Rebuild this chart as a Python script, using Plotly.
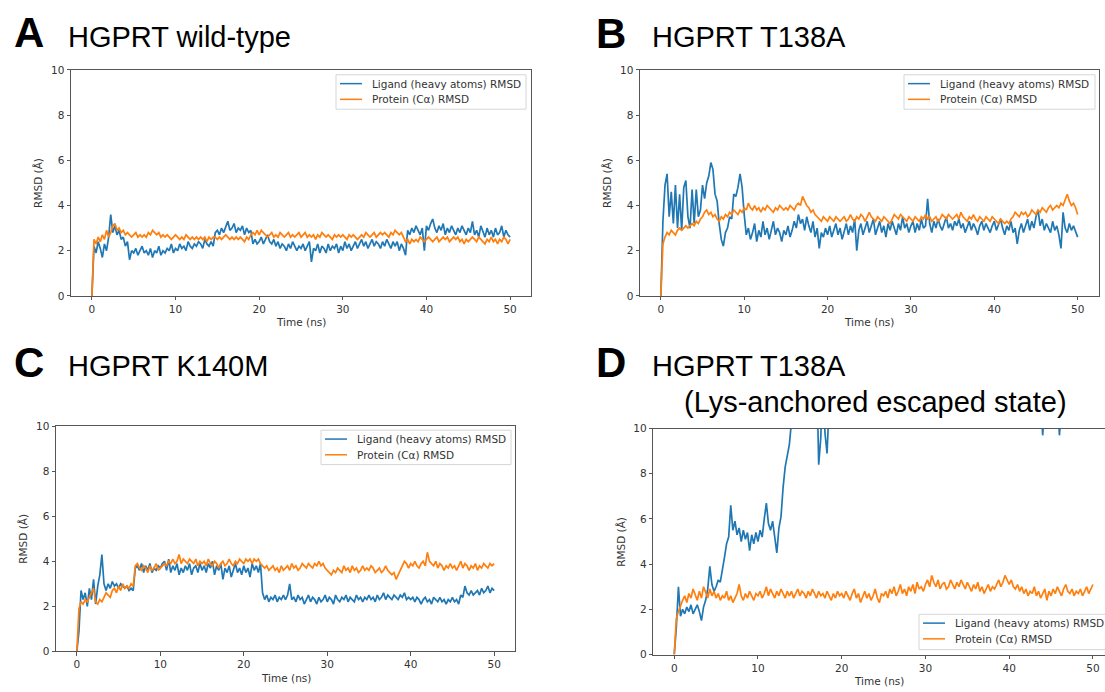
import plotly.graph_objects as go

W, H = 1105, 692
TIME_STEP_NS = 0.25

# ---------------- data (RMSD in Å, sampled every 0.25 ns from 0 to 50 ns) ----------------
a_ligand = [
    0.0, 2.2, 1.9, 2.4, 2.1, 1.7, 2.3, 2.0, 2.6, 3.6, 2.8, 3.1, 2.7, 2.9, 2.5, 2.6, 2.2, 2.4, 1.6, 2.0,
    1.9, 2.1, 1.8, 2.0, 2.2, 1.9, 2.0, 1.8, 2.1, 1.7, 2.0, 1.9, 2.2, 1.8, 2.0, 1.9, 2.1, 2.0, 2.3, 1.9,
    2.1, 2.0, 2.3, 2.1, 2.2, 2.0, 2.4, 2.2, 2.1, 2.3, 2.2, 2.4, 2.3, 2.1, 2.5, 2.3, 2.2, 2.4, 2.2, 2.8,
    2.9, 2.7, 3.0, 2.8, 3.1, 3.3, 2.9, 3.0, 3.2, 2.8, 3.0, 2.9, 3.1, 2.7, 3.0, 2.8, 2.9, 2.3, 2.5, 2.3,
    2.4, 2.6, 2.3, 2.5, 2.7, 2.4, 2.3, 2.5, 2.2, 2.4, 2.1, 2.3, 2.2, 2.0, 2.3, 2.1, 2.4, 2.2, 2.0, 2.2,
    2.1, 2.3, 2.0, 2.2, 2.4, 1.5, 2.1, 2.0, 2.3, 1.9, 2.2, 2.1, 1.9, 2.3, 2.0, 2.2, 2.1, 2.3, 1.9, 2.2,
    2.0, 2.4, 2.1, 2.3, 2.0, 2.2, 2.4, 2.1, 2.3, 2.5, 2.2, 2.4, 2.1, 2.3, 2.5, 2.2, 2.4, 2.3, 2.1, 2.4,
    2.2, 2.5, 2.3, 2.1, 2.4, 2.2, 2.4, 2.0, 2.3, 2.1, 1.8, 2.9, 2.7, 3.0, 2.8, 3.1, 2.9, 2.7, 3.0, 2.0,
    3.1, 2.9, 3.2, 3.4, 3.0, 2.8, 3.1, 2.9, 3.2, 2.7, 3.0, 2.8, 3.1, 2.9, 2.7, 3.0, 2.8, 3.1, 2.9, 2.7,
    3.0, 2.8, 3.3, 2.7, 2.9, 2.6, 3.1, 2.8, 2.6, 3.0, 2.7, 2.9, 2.6, 3.0, 2.7, 2.8, 3.1, 2.6, 2.9, 2.7,
    2.6,
]
a_protein = [
    0.0, 2.5, 2.3, 2.6, 2.4, 2.7, 2.5, 2.9, 2.6, 2.8, 3.1, 3.2, 2.9, 3.0, 2.8, 2.9, 2.7, 2.8, 2.7, 2.6,
    2.7, 2.8, 2.6, 2.7, 2.6, 2.7, 2.6, 2.8, 2.7, 2.9, 2.8, 2.7, 2.8, 2.6, 2.7, 2.6, 2.7, 2.6, 2.5, 2.6,
    2.7, 2.6, 2.5, 2.6, 2.5, 2.7, 2.6, 2.5, 2.6, 2.5, 2.6, 2.5, 2.6, 2.5, 2.6, 2.4, 2.6, 2.5, 2.6, 2.6,
    2.5, 2.6, 2.5, 2.6, 2.7, 2.6, 2.5, 2.6, 2.5, 2.6, 2.5, 2.6, 2.5, 2.4, 2.6, 2.5, 2.7, 2.8, 2.7, 2.9,
    2.7, 2.9, 2.8, 2.7, 2.6, 2.7, 2.8, 2.6, 2.7, 2.6, 2.8, 2.7, 2.6, 2.7, 2.8, 2.6, 2.7, 2.6, 2.7, 2.8,
    2.6, 2.7, 2.8, 2.6, 2.7, 2.6, 2.7, 2.5, 2.7, 2.6, 2.8, 2.7, 2.6, 2.7, 2.6, 2.5, 2.7, 2.6, 2.7, 2.6,
    2.7, 2.6, 2.5, 2.7, 2.6, 2.7, 2.6, 2.5, 2.6, 2.7, 2.6, 2.8, 2.7, 2.6, 2.7, 2.8, 2.6, 2.7, 2.8, 2.7,
    2.8, 2.7, 2.6, 2.8, 2.7, 2.9, 2.8, 2.7, 2.8, 2.6, 2.4, 2.5, 2.3, 2.5, 2.4, 2.5, 2.4, 2.6, 2.5, 2.4,
    2.5, 2.6, 2.5, 2.4, 2.5, 2.6, 2.4, 2.5, 2.6, 2.5, 2.6, 2.4, 2.5, 2.6, 2.5, 2.6, 2.4, 2.5, 2.3, 2.5,
    2.4, 2.5, 2.6, 2.5, 2.4, 2.6, 2.5, 2.4, 2.3, 2.5, 2.4, 2.6, 2.4, 2.5, 2.3, 2.5, 2.4, 2.6, 2.5, 2.3,
    2.5,
]

b_ligand = [
    0.0, 3.3, 4.9, 5.4, 3.5, 4.6, 3.2, 4.9, 3.0, 4.5, 2.9, 4.8, 5.1, 3.5, 3.0, 4.7, 3.2, 4.7, 3.5, 3.8,
    4.9, 4.3, 5.0, 5.3, 5.9, 5.6, 4.5, 4.2, 3.2, 2.5, 2.2, 2.8, 3.0, 3.5, 3.4, 4.5, 4.4, 4.8, 5.4, 4.8,
    3.6, 2.7, 3.0, 2.5, 2.8, 3.2, 2.4, 2.9, 2.6, 3.3, 2.7, 3.0, 2.5, 2.9, 3.3, 2.7, 3.0, 2.8, 2.4, 2.9,
    2.7, 3.1, 2.6, 2.9, 3.3, 3.0, 3.6, 3.2, 3.4, 2.9, 3.5, 3.1, 2.8, 3.3, 2.6, 3.0, 2.1, 2.8, 2.6, 3.0,
    2.7, 3.1, 2.6, 2.9, 3.2, 2.7, 3.0, 2.5, 2.9, 3.2, 2.7, 3.1, 2.8, 3.4, 2.0, 2.9, 3.2, 2.7, 3.0, 3.3,
    2.8, 3.1, 3.4, 2.7, 3.0, 3.3, 2.8, 3.1, 2.6, 3.2, 2.9, 3.3, 3.0, 2.7, 3.2, 2.9, 3.5, 3.0, 3.2, 2.8,
    3.1, 3.3, 2.8, 3.2, 2.9, 3.4, 3.0, 3.1, 4.3, 3.2, 2.8, 3.3, 3.0, 3.4, 3.1, 2.9, 3.2, 3.5, 3.0, 3.2,
    2.9, 3.3, 3.1, 3.4, 3.0, 3.2, 2.8, 3.1, 3.3, 2.9, 3.2, 3.0, 2.7, 3.1, 3.3, 2.9, 3.2, 3.0, 2.8, 3.1,
    3.3, 2.9, 3.2, 3.4, 3.0, 2.7, 3.1, 2.9, 3.3, 2.8, 3.0, 2.3, 2.9, 3.2, 2.8, 3.1, 3.4, 2.9, 3.3, 3.0,
    3.5, 3.8, 3.1, 3.4, 2.9, 3.2, 3.0, 2.8, 3.3, 2.9, 3.1, 2.7, 2.1, 3.7, 3.0, 2.8, 3.2, 2.9, 3.1, 2.8,
    2.6,
]
b_protein = [
    0.0, 2.3, 2.6, 2.8, 2.7, 2.9, 2.8, 2.7, 2.9, 3.0, 2.9, 3.0, 3.1, 3.0, 3.1, 3.2, 3.1, 3.3, 3.2, 3.4,
    3.5, 3.7, 3.8, 3.6, 3.7, 3.5, 3.6, 3.4, 3.3, 3.5, 3.4, 3.6, 3.5, 3.7, 3.6, 3.8, 3.7, 3.6, 3.8, 3.7,
    3.9, 3.8, 4.1, 3.9, 3.8, 4.0, 3.8, 3.9, 3.7, 3.9, 3.8, 4.0, 3.9, 3.8, 3.7, 3.9, 3.8, 4.0, 3.9, 3.8,
    3.9, 3.8, 4.0, 3.9, 3.8, 4.0, 4.1, 4.0, 4.4, 4.2, 4.0, 3.9, 3.7, 3.8, 3.6, 3.5, 3.4, 3.3, 3.5, 3.4,
    3.3, 3.5, 3.4, 3.3, 3.5, 3.4, 3.3, 3.4, 3.5, 3.3, 3.4, 3.6, 3.4, 3.3, 3.5, 3.4, 3.6, 3.5, 3.3, 3.5,
    3.7, 3.5, 3.4, 3.3, 3.5, 3.4, 3.3, 3.5, 3.4, 3.3, 3.2, 3.4, 3.6, 3.5, 3.4, 3.6, 3.5, 3.4, 3.3, 3.5,
    3.4, 3.3, 3.5, 3.4, 3.3, 3.5, 3.4, 3.6, 3.4, 3.5, 3.3, 3.4, 3.5, 3.3, 3.4, 3.6, 3.5, 3.4, 3.6, 3.5,
    3.4, 3.5, 3.6, 3.4, 3.7, 3.5, 3.4, 3.3, 3.5, 3.4, 3.6, 3.4, 3.3, 3.5, 3.4, 3.3, 3.5, 3.4, 3.3, 3.5,
    3.4, 3.3, 3.2, 3.4, 3.3, 3.2, 3.3, 3.2, 3.4, 3.5, 3.7, 3.6, 3.5, 3.7, 3.6, 3.7, 3.5, 3.6, 3.8, 3.7,
    3.6, 3.8, 3.7, 3.9, 3.8, 3.7, 3.9, 4.0, 3.8, 3.9, 4.0, 3.9, 4.1, 4.0, 4.3, 4.5, 4.2, 4.0, 4.1, 3.9,
    3.6,
]

c_ligand = [
    0.0, 0.9, 2.7, 2.3, 2.6, 2.0, 2.8, 2.3, 3.2, 2.1, 2.9, 3.4, 4.3, 3.0, 2.7, 3.0, 2.8, 3.1, 2.9, 3.0,
    2.8, 3.0, 2.9, 2.8, 2.9, 2.7, 2.8, 2.7, 3.7, 3.8, 3.6, 3.9, 3.5, 3.8, 3.6, 3.9, 3.5, 3.7, 3.6, 3.8,
    3.7, 3.9, 4.0, 3.6, 4.1, 3.5, 3.8, 3.6, 3.9, 3.4, 3.7, 3.5, 3.8, 3.6, 3.9, 3.4, 3.7, 3.8, 3.5, 3.9,
    3.6, 3.8, 3.5, 3.9, 3.7, 4.0, 3.4, 3.8, 3.6, 3.9, 3.2, 3.7, 3.5, 3.8, 3.3, 3.6, 3.9, 3.5, 3.7, 3.4,
    3.8, 3.5, 3.7, 3.3, 3.9, 3.6, 3.8, 3.5, 3.9, 2.6, 2.3, 2.5, 2.2, 2.4, 2.3, 2.5, 2.2, 2.4, 2.3, 2.5,
    2.3, 2.5, 3.0, 2.3, 2.4, 2.2, 2.5, 2.3, 2.4, 2.1, 2.3, 2.5, 2.2, 2.4, 2.3, 2.1, 2.4, 2.2, 2.3, 2.5,
    2.2, 2.4, 2.3, 2.1, 2.5, 2.3, 2.2, 2.4, 2.3, 2.5, 2.2, 2.4, 2.3, 2.2, 2.5, 2.3, 2.4, 2.2, 2.4, 2.3,
    2.5, 2.3, 2.4, 2.2, 2.5, 2.3, 2.4, 2.6, 2.3, 2.5, 2.4, 2.3, 2.5, 2.4, 2.3, 2.5, 2.4, 2.6, 2.3, 2.4,
    2.3, 2.4, 2.2, 2.4, 2.3, 2.1, 2.3, 2.4, 2.2, 2.3, 2.1, 2.4, 2.3, 2.2, 2.4, 2.2, 2.3, 2.1, 2.3, 2.2,
    2.4, 2.2, 2.3, 2.1, 2.5, 2.4, 2.9, 2.6, 2.5, 2.7, 2.5, 2.6, 2.7, 2.5, 2.8, 2.6, 2.7, 2.9, 2.6, 2.8,
    2.7,
]
c_protein = [
    0.0, 1.9, 2.2, 2.1, 2.3, 2.2, 2.4, 2.6, 2.8, 2.2, 2.1, 2.3, 2.2, 2.4, 2.6, 2.5, 2.4, 2.7, 2.8, 2.6,
    2.9, 2.7, 3.0, 2.8, 2.9, 2.8, 3.0, 2.9, 3.8, 3.9, 3.7, 3.6, 3.8, 3.7, 3.5, 3.8, 3.6, 3.7, 3.9, 3.6,
    3.7, 3.8, 3.9, 3.8, 4.0, 3.9, 4.1, 3.9, 4.0, 4.3, 3.9, 4.1, 4.0, 3.9, 4.1, 4.0, 3.9, 4.1, 3.8, 4.0,
    3.9, 4.0, 3.8, 4.1, 3.9, 3.8, 4.0, 3.9, 3.7, 3.9, 4.0, 3.8, 3.9, 4.1, 3.9, 3.8, 4.0, 3.9, 4.1, 4.0,
    3.9, 4.1, 4.0, 4.1, 3.9, 4.1, 4.0, 4.1, 3.9, 3.8, 3.7, 3.8, 3.6, 3.7, 3.8, 3.6, 3.7, 3.5, 3.8, 3.6,
    3.7, 3.8, 3.6, 3.9, 3.7, 3.8, 3.6, 3.7, 3.9, 3.8, 3.7, 3.9, 3.8, 3.7, 3.9, 3.8, 4.0, 3.8, 3.9, 3.7,
    3.6, 3.5, 3.4, 3.6, 3.5, 3.7, 3.6, 3.5, 3.8, 3.6, 3.7, 3.5, 3.8, 3.6, 3.7, 3.5, 3.6, 3.8, 3.6, 3.7,
    3.6, 3.8, 3.7, 3.5, 3.6, 3.7, 3.5, 3.6, 3.8, 3.6, 3.5, 3.4, 3.5, 3.2, 3.4, 3.6, 3.8, 4.0, 3.9, 3.7,
    3.9, 3.8, 4.0, 3.8, 3.7, 3.9, 4.0, 3.8, 4.4, 4.0, 3.9, 3.8, 4.0, 3.7, 3.9, 3.8, 3.6, 3.8, 3.7, 3.9,
    3.7, 3.8, 3.6, 3.8, 4.0, 3.7, 3.9, 3.8, 3.6, 3.8, 3.7, 3.9, 3.6, 3.8, 3.7, 3.9, 3.8, 3.7, 3.9, 3.8,
    3.9,
]

# values above 10 Å run off the top of panel D (only the dips back below 10 are visible)
d_ligand = [
    0.0, 1.2, 3.0, 1.7, 2.0, 1.8, 2.1, 1.9, 2.2, 1.8, 2.0, 2.2, 1.9, 1.5, 2.1, 2.4, 2.9, 3.9, 3.1, 2.8,
    3.0, 3.3, 3.2, 3.7, 4.3, 4.9, 5.2, 6.6, 5.5, 5.9, 5.3, 5.6, 5.0, 5.5, 5.1, 5.4, 4.6, 5.3, 4.9, 5.4,
    5.0, 5.5, 5.2, 6.0, 6.7, 5.8, 5.5, 5.9, 5.3, 4.5, 5.6, 6.1, 7.4, 8.3, 8.8, 9.3, 10.3, 11.0, 11.8, 12.3,
    12.5, 12.8, 13.0, 12.6, 13.1, 12.9, 13.3, 13.0, 12.8, 8.4, 9.6, 12.5, 9.8, 8.9, 12.7, 13.2, 12.9, 13.4, 13.1, 13.3,
    12.0, 11.6, 12.3, 11.8, 12.5, 12.1, 11.7, 12.4, 12.0, 12.6, 12.2, 11.9, 12.5, 12.1, 12.7, 12.3, 11.9, 12.6, 12.2, 12.8,
    12.4, 12.0, 12.7, 12.3, 12.9, 12.5, 12.1, 12.8, 12.4, 13.0, 12.6, 12.2, 12.9, 12.5, 13.1, 12.7, 12.3, 13.0, 12.6, 13.2,
    12.8, 12.4, 13.1, 12.7, 13.3, 12.9, 12.5, 13.2, 12.8, 13.4, 13.0, 12.6, 13.3, 12.9, 13.5, 13.1, 12.7, 13.4, 13.0, 13.6,
    13.2, 12.8, 13.5, 13.1, 13.7, 13.3, 12.9, 13.6, 13.2, 13.8, 13.4, 13.0, 13.7, 13.3, 13.9, 13.5, 13.1, 13.8, 13.4, 13.0,
    12.6, 12.9, 12.3, 12.7, 12.0, 12.4, 11.8, 12.2, 11.6, 12.0, 11.4, 11.8, 11.2, 11.6, 11.0, 11.3, 9.7, 11.2, 10.9, 11.4,
    11.0, 11.5, 10.8, 11.3, 9.7, 11.0, 11.2, 10.8, 11.4, 11.0, 11.6, 11.2, 11.8, 11.3, 11.9, 11.5, 12.0, 11.6, 12.2, 11.8,
    12.0,
]
d_protein = [
    0.0, 1.6, 1.9, 2.2, 2.4, 2.6, 2.3, 2.7, 2.5, 2.9, 2.6, 2.4, 2.8, 2.5, 3.0, 2.7, 2.5, 2.9, 2.6, 2.8,
    2.5, 2.7, 2.4, 2.6, 2.5, 2.8, 2.4, 2.6, 2.3, 2.5, 2.7, 3.1, 2.6, 2.4, 2.7, 2.5, 2.8, 2.6, 2.4, 2.7,
    2.6, 2.8, 2.5, 2.7, 3.0, 2.6, 2.9, 2.7, 2.5, 2.8, 2.6, 2.9, 2.7, 2.5, 2.8, 2.6, 2.8, 2.5, 2.7, 2.9,
    2.6, 2.8, 2.7, 2.5, 2.8, 2.6, 2.9, 2.7, 2.5, 2.8, 2.6, 2.7, 2.5, 2.8, 2.6, 2.4, 2.7, 2.5, 2.8, 2.6,
    2.7, 2.5, 2.8, 2.6, 2.4, 2.7, 2.9, 2.5, 2.7, 2.3, 2.6, 2.8, 2.5, 2.7, 2.4, 2.6, 2.9, 2.5, 2.3, 2.7,
    2.6, 2.8, 2.5, 2.9, 2.7, 3.0, 2.6, 2.8, 3.1, 2.7, 2.9, 2.6, 3.0, 2.8, 3.1, 2.7, 3.2, 2.9, 3.0, 2.8,
    3.1, 3.3, 3.0, 3.5, 3.2, 3.0, 3.3, 2.9, 3.1, 3.2, 2.9, 3.0, 3.3, 3.1, 2.9, 3.2, 3.0, 3.3, 3.1, 2.9,
    3.2, 3.0, 2.8, 3.1, 2.9, 3.2, 2.8, 3.0, 2.7, 2.9, 3.1, 2.8, 3.0, 2.9, 3.1, 3.3, 3.0, 3.2, 3.5, 3.3,
    3.1, 3.3, 3.0, 2.9, 3.1, 2.8, 3.0, 2.7, 2.9, 2.6, 2.8, 2.7, 3.0, 2.6, 2.8, 2.5, 2.7, 2.9, 2.4, 2.8,
    2.6, 2.9, 2.7, 3.0, 2.8, 2.6, 2.9, 3.1, 2.8, 2.7, 2.9, 2.6, 2.8, 2.7, 2.9, 2.6, 2.8, 3.0, 2.7, 2.9,
    3.1,
]

x_tick_values = [0, 10, 20, 30, 40, 50]
y_tick_values = [0, 2, 4, 6, 8, 10]
series_names = ["Ligand (heavy atoms) RMSD", "Protein (Cα) RMSD"]
series_colors = ["#1f77b4", "#ff7f0e"]
panel_letters = ["A", "B", "C", "D"]
panel_titles = ["HGPRT wild-type", "HGPRT T138A", "HGPRT K140M", "HGPRT T138A"]
panel_subtitle_d = "(Lys-anchored escaped state)"
x_title = "Time (ns)"
y_title = "RMSD (Å)"


def px(x):
    return x / W


def py(y):
    return 1 - y / H


TICK_FONT = dict(family="DejaVu Sans", size=10.5, color="#333333")
AXIS_COLOR = "#555555"

# panel geometry in pixels: plot frame, x range, legend box
panels = [
    dict(ligand=a_ligand, protein=a_protein, frame=(71, 531, 65, 295), xrange=[-2.5, 52.5],
         right_line=True, legend=(336, 526, 70, 105), letter_pos=(12, 27), title_pos=(66, 32)),
    dict(ligand=b_ligand, protein=b_protein, frame=(640, 1098.5, 65, 295), xrange=[-2.5, 52.5],
         right_line=True, legend=(904, 1095, 70, 105), letter_pos=(594, 28), title_pos=(650, 32)),
    dict(ligand=c_ligand, protein=c_protein, frame=(56, 515, 427.7, 656.7), xrange=[-2.5, 52.5],
         right_line=True, legend=(321, 511, 431.7, 466.7), letter_pos=(12, 363), title_pos=(66, 366)),
    dict(ligand=d_ligand, protein=d_protein, frame=(653.3, 1105, 430, 660), xrange=[-2.5, 51.44],
         right_line=False, legend=(919, 1120, 619, 655), letter_pos=(594, 363), title_pos=(650, 366)),
]

fig = go.Figure()
shapes = []
annotations = []
layout_axes = {}

for i, p in enumerate(panels):
    n = "" if i == 0 else str(i + 1)
    x0, x1, y0, y1 = p["frame"]
    for vals, name, color in zip([p["ligand"], p["protein"]], series_names, series_colors):
        t = [k * TIME_STEP_NS for k in range(len(vals))]
        fig.add_trace(go.Scatter(x=t, y=vals, mode="lines", name=name,
                                 line=dict(color=color, width=1.7),
                                 xaxis="x" + n, yaxis="y" + n, showlegend=False,
                                 hoverinfo="skip"))
    layout_axes["xaxis" + n] = dict(
        domain=[px(x0), px(x1)], range=p["xrange"], anchor="y" + n,
        tickvals=x_tick_values, ticks="outside", ticklen=3.5, tickwidth=1, tickcolor=AXIS_COLOR,
        showline=True, linecolor=AXIS_COLOR, linewidth=1, mirror=True,
        showgrid=False, zeroline=False, tickfont=TICK_FONT, fixedrange=True)
    layout_axes["yaxis" + n] = dict(
        domain=[py(y1), py(y0)], range=[0, 10], anchor="x" + n,
        tickvals=y_tick_values, ticks="outside", ticklen=3.5, tickwidth=1, tickcolor=AXIS_COLOR,
        showline=True, linecolor=AXIS_COLOR, linewidth=1, mirror=p["right_line"],
        showgrid=False, zeroline=False, tickfont=TICK_FONT, fixedrange=True)

    # axis titles
    annotations.append(dict(text=x_title, x=px((x0 + min(x1, x0 + 460)) / 2), y=py(y1 + 27),
                            xref="paper", yref="paper", showarrow=False,
                            xanchor="center", yanchor="middle", font=TICK_FONT))
    annotations.append(dict(text=y_title, x=px(x0 - 33), y=py((y0 + y1) / 2),
                            xref="paper", yref="paper", showarrow=False, textangle=-90,
                            xanchor="center", yanchor="middle", font=TICK_FONT))

    # panel letter & title
    lx, ly = p["letter_pos"]
    annotations.append(dict(text="<b>%s</b>" % panel_letters[i], x=px(lx), y=py(ly),
                            xref="paper", yref="paper", showarrow=False,
                            xanchor="left", yanchor="middle",
                            font=dict(family="Liberation Sans", size=42, color="black")))
    tx, ty = p["title_pos"]
    annotations.append(dict(text=panel_titles[i], x=px(tx), y=py(ty),
                            xref="paper", yref="paper", showarrow=False,
                            xanchor="left", yanchor="middle",
                            font=dict(family="Liberation Sans", size=29, color="black")))

    # legend box (drawn manually, as in the matplotlib original)
    lx0, lx1, ly0, ly1 = p["legend"]
    shapes.append(dict(type="rect", xref="paper", yref="paper",
                       x0=px(lx0), x1=px(lx1), y0=py(ly1), y1=py(ly0),
                       line=dict(color="#d6d6d6", width=1), fillcolor="rgba(255,255,255,0.85)",
                       layer="above"))
    row_ys = [ly0 + 9, ly0 + 25]
    for name, color, ry in zip(series_names, series_colors, row_ys):
        shapes.append(dict(type="line", xref="paper", yref="paper",
                           x0=px(lx0 + 4), x1=px(lx0 + 26), y0=py(ry), y1=py(ry),
                           line=dict(color=color, width=1.5), layer="above"))
        annotations.append(dict(text=name, x=px(lx0 + 34), y=py(ry),
                                xref="paper", yref="paper", showarrow=False,
                                xanchor="left", yanchor="middle", font=TICK_FONT))

annotations.append(dict(text=panel_subtitle_d, x=px(682), y=py(403),
                        xref="paper", yref="paper", showarrow=False,
                        xanchor="left", yanchor="middle",
                        font=dict(family="Liberation Sans", size=29, color="black")))

fig.update_layout(
    width=W, height=H, autosize=False,
    margin=dict(l=0, r=0, t=0, b=0),
    paper_bgcolor="white", plot_bgcolor="white",
    showlegend=False,
    shapes=shapes, annotations=annotations,
    **layout_axes,
)

fig.write_html("out.html", config={"displayModeBar": False})
